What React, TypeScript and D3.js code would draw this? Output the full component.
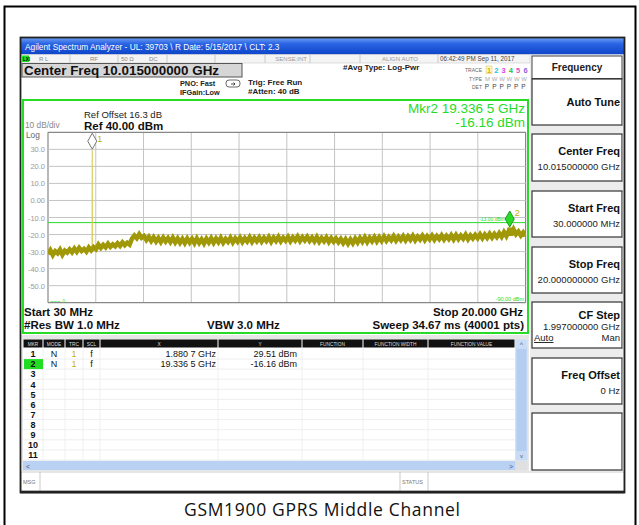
import React from 'react';
import * as d3 from 'd3';

// ---------- data ----------
const startGHz = 0.03;
const stopGHz = 20.0;
const refLevel = 40;
const bottomLevel = -60;
const yTickValues = [30, 20, 10, 0, -10, -20, -30, -40, -50];
const yTickLabels = ["30.0", "20.0", "10.0", "0.00", "-10.0", "-20.0", "-30.0", "-40.0", "-50.0"];
const displayLineDbm = -13;

// trace (dBm), evenly spaced sweep points from start to stop
const traceLevels = [
  -31.5, -29.2, -32.0, -29.8, -31.0, -28.9, -31.8, -29.5, -30.6, -28.7,
  -30.4, -28.2, -30.1, -27.9, -29.6, -28.4, -30.0, -27.6, -29.3, -27.4,
  -28.6, -25.9, -27.8, -26.1, -27.5, -25.4, -27.2, -25.8, -26.9, -25.1,
  -26.6, -24.6, -26.2, -24.8, -25.9, -22.4, -20.6, -22.1, -19.8, -21.9,
  -20.9, -23.2, -21.4, -23.8, -21.7, -24.1, -22.0, -24.3, -21.8, -24.0,
  -22.1, -24.4, -21.9, -24.6, -22.3, -24.8, -22.6, -25.0, -22.4, -24.7,
  -22.6, -25.1, -22.3, -24.9, -22.8, -25.2, -22.5, -24.6, -22.2, -24.8,
  -22.4, -24.5, -22.0, -24.8, -22.6, -24.3, -21.9, -24.6, -22.3, -24.2,
  -21.8, -24.4, -22.2, -24.0, -21.6, -24.3, -22.0, -23.9, -21.7, -24.1,
  -21.9, -23.8, -21.5, -24.2, -21.8, -23.7, -21.4, -24.0, -21.9, -23.6,
  -21.4, -23.9, -21.7, -23.5, -21.2, -23.8, -21.6, -23.4, -21.3, -23.7,
  -21.8, -24.0, -21.5, -24.2, -22.0, -23.9, -21.7, -24.3, -22.1, -24.1,
  -22.3, -24.5, -22.6, -25.0, -22.8, -25.3, -22.9, -25.1, -22.4, -24.6,
  -22.0, -24.2, -21.7, -24.4, -21.9, -23.9, -21.5, -24.0, -21.6, -23.7,
  -21.2, -23.6, -21.5, -23.3, -20.9, -23.5, -21.3, -23.2, -21.0, -23.4,
  -21.1, -23.1, -20.8, -23.4, -21.2, -22.9, -20.7, -23.2, -21.0, -22.8,
  -20.6, -23.0, -20.9, -22.7, -20.5, -22.9, -20.8, -22.6, -20.4, -22.8,
  -20.3, -22.6, -20.6, -22.4, -20.1, -22.7, -20.5, -22.3, -20.2, -22.1,
  -19.9, -22.2, -20.0, -21.9, -19.6, -21.8, -19.7, -21.5, -19.2, -21.3,
  -18.6, -20.9, -17.9, -20.4, -17.0, -19.8, -18.3, -20.6, -18.8, -20.9,
];

// carrier spike
const spikeFreqs = [1.874, 1.8807, 1.887];
const spikeLevels = [-27.6, 29.51, -27.9];

// markers
const markerFreqs = [1.8807, 19.3365];
const markerLevels = [29.51, -16.16];
const markerNames = ["1", "2"];
const markerXText = ["1.880 7 GHz", "19.336 5 GHz"];
const markerYText = ["29.51 dBm", "-16.16 dBm"];
const tableRowNames = ["1", "2", "3", "4", "5", "6", "7", "8", "9", "10", "11"];
const tableColumns = ["MKR", "MODE", "TRC", "SCL", "X", "Y", "FUNCTION", "FUNCTION WIDTH", "FUNCTION VALUE"];

// softkeys
const softkeyTitles = ["Auto Tune", "Center Freq", "Start Freq", "Stop Freq", "CF Step", "Freq Offset", ""];
const softkeyValues = ["", "10.015000000 GHz", "30.000000 MHz", "20.000000000 GHz", "1.997000000 GHz", "0 Hz", ""];

const traceNumbers = ["1", "2", "3", "4", "5", "6"];

// ---------- layout ----------
const W = 639, H = 525;
const PL = 48, PR = 525.6, PT = 132.3, PB = 302.7;
const UI = "'Liberation Sans', Arial, sans-serif";
const GREEN = "#27dc27";
const TRACE = "#a09806";

export default function App() {
  const x = d3.scaleLinear().domain([startGHz, stopGHz]).range([PL, PR]);
  const y = d3.scaleLinear().domain([bottomLevel, refLevel]).range([PB, PT]);
  const n = traceLevels.length;
  const pts: [number, number][] = traceLevels.map((v, i) => [startGHz + (i * (stopGHz - startGHz)) / (n - 1), v]);
  pts.push([markerFreqs[1], markerLevels[1]]);
  pts.sort((a, b) => a[0] - b[0]);
  const line = d3.line<[number, number]>().x(d => x(d[0])).y(d => y(d[1]));
  const spikePts: [number, number][] = spikeFreqs.map((f, i) => [f, spikeLevels[i]]);
  const vTicks = d3.range(11).map(i => startGHz + (i * (stopGHz - startGHz)) / 10);
  const hTicks = d3.range(11).map(i => refLevel - i * 10);

  const colEdges = [23, 43, 65, 83, 100, 218, 302, 363, 428, 515];
  const rowY = (i: number) => 354 + i * 10.1;

  const keyTops = [79, 134, 191, 247, 302, 358, 413];
  const keyBots = [125, 181, 237, 293, 348, 404, 470];
  const traceColors = ["#d6b400", "#22c4e8", "#e040e0", "#30c030", "#e050c0", "#9060e0"];

  return (
    <svg width={W} height={H} style={{ position: 'absolute', left: 0, top: 0, background: '#fff' }} fontFamily={UI}>
      <defs>
        <linearGradient id="tb" x1="0" y1="0" x2="0" y2="1">
          <stop offset="0" stopColor="#6a9cf2" />
          <stop offset="0.35" stopColor="#2a64e4" />
          <stop offset="1" stopColor="#0d44c8" />
        </linearGradient>
        <clipPath id="plot"><rect x={PL} y={PT - 20} width={PR - PL} height={PB - PT + 20} /></clipPath>
      </defs>

      {/* outer frame */}
      <path d="M4.5,525 V6.5 H635.5 V525" fill="none" stroke="#000" strokeWidth={2} />

      <rect x={21} y={38} width={603} height={454} fill="#fff" />

      {/* title bar */}
      <rect x={21} y={38} width={603} height={16.5} fill="url(#tb)" />
      <text x={25} y={50} fill="#fff" fontSize={8.3}>Agilent Spectrum Analyzer - UL: 39703 \ R Date: 5/15/2017 \ CLT: 2.3</text>

      {/* status row */}
      <rect x={21} y={54.5} width={509} height={8.5} fill="#f4f4f4" stroke="#c8c8c8" strokeWidth={0.6} />
      {[70, 118, 167, 215, 265, 310, 360, 438].map(v => (
        <line key={v} x1={v} x2={v} y1={54.5} y2={63} stroke="#c0c0c0" strokeWidth={0.8} />
      ))}
      <rect x={22} y={55.5} width={7} height={6.5} fill="#22dd22" />
      <text x={23} y={61} fontSize={4.5} fontWeight="bold" fill="#000">LXI</text>
      <text x={39} y={61.3} fontSize={6} fill="#888">R L</text>
      <text x={90} y={61.3} fontSize={6} fill="#888">RF</text>
      <text x={121} y={61.3} fontSize={6} fill="#888">50 Ω</text>
      <text x={149} y={61.3} fontSize={6} fill="#888">DC</text>
      <text x={307} y={61.3} fontSize={6} fill="#999" textAnchor="end">SENSE:INT</text>
      <text x={400} y={61.3} fontSize={6} fill="#999" textAnchor="middle">ALIGN AUTO</text>
      <text x={440} y={61.3} fontSize={6.3} fill="#444">06:42:49 PM Sep 11, 2017</text>

      {/* center freq box */}
      <rect x={22} y={63.5} width={220} height={13.5} fill="#d6d6d6" stroke="#555" strokeWidth={1} />
      <text x={24} y={75} fontSize={13.4} fontWeight="bold" fill="#111">Center Freq 10.015000000 GHz</text>

      <text x={180} y={85.5} fontSize={7.3} fontWeight="bold" fill="#222">PNO: Fast</text>
      <text x={180} y={94.5} fontSize={7.3} fontWeight="bold" fill="#222">IFGain:Low</text>
      <rect x={226} y={80} width={14} height={7} rx={3} fill="#fff" stroke="#444" strokeWidth={0.8} />
      <path d="M231,84 h4 M233.5,82.5 l1.5,1.5 l-1.5,1.5" stroke="#222" strokeWidth={0.8} fill="none" />
      <text x={248} y={84.5} fontSize={8} fontWeight="bold" fill="#222">Trig: Free Run</text>
      <text x={248} y={93.5} fontSize={8} fontWeight="bold" fill="#222">#Atten: 40 dB</text>
      <text x={343} y={69.5} fontSize={8} fontWeight="bold" fill="#222">#Avg Type: Log-Pwr</text>

      <text x={482} y={72} fontSize={5} fill="#666" textAnchor="end">TRACE</text>
      <rect x={486} y={66} width={6} height={7.5} fill="#fff7c0" stroke="#d8c060" strokeWidth={0.5} />
      {traceNumbers.map((t, i) => (
        <text key={t} x={489 + i * 7.3} y={72.5} fontSize={7.5} fontWeight="bold" fill={traceColors[i]} textAnchor="middle">{t}</text>
      ))}
      <text x={482} y={80.5} fontSize={5} fill="#666" textAnchor="end">TYPE</text>
      <text x={485} y={80.5} fontSize={6} fill="#aaa" textLength={42}>MWWWWW</text>
      <text x={482} y={88.5} fontSize={5} fill="#666" textAnchor="end">DET</text>
      {traceNumbers.map((t, i) => (
        <text key={t} x={487 + i * 7.3} y={89} fontSize={6.5} fill="#444" textAnchor="middle">P</text>
      ))}

      {/* graph green frame */}
      <rect x={23} y={100} width={505} height={233} fill="#fff" stroke={GREEN} strokeWidth={2} />

      <text x={25} y={128} fontSize={8.3} fill="#888">10 dB/div</text>
      <text x={26} y={137.5} fontSize={8.3} fill="#666">Log</text>
      <text x={84} y={118} fontSize={9.5} fill="#222">Ref Offset 16.3 dB</text>
      <text x={84} y={130} fontSize={11.5} fontWeight="bold" fill="#111">Ref 40.00 dBm</text>
      <text x={525} y={113} fontSize={13.5} fill={GREEN} textAnchor="end">Mkr2 19.336 5 GHz</text>
      <text x={525} y={127} fontSize={13.5} fill={GREEN} textAnchor="end">-16.16 dBm</text>

      {/* grid */}
      {vTicks.map((f, i) => (
        <line key={'v' + i} x1={x(f)} x2={x(f)} y1={PT} y2={PB} stroke={i === 0 || i === 10 ? '#888' : '#c4c4c4'} strokeWidth={i === 0 || i === 10 ? 1.2 : 1} />
      ))}
      {hTicks.map((v, i) => (
        <line key={'h' + i} x1={PL} x2={PR} y1={y(v)} y2={y(v)} stroke={i === 0 || i === 10 ? '#888' : '#c4c4c4'} strokeWidth={i === 0 || i === 10 ? 1.2 : 1} />
      ))}
      {yTickValues.map((v, i) => (
        <text key={'yl' + i} x={45} y={y(v) + 3} fontSize={7.5} fill="#999" textAnchor="end">{yTickLabels[i]}</text>
      ))}

      {/* display line */}
      <line x1={PL} x2={PR} y1={y(displayLineDbm)} y2={y(displayLineDbm)} stroke={GREEN} strokeWidth={1} />
      <text x={505} y={221} fontSize={5} fill={GREEN} textAnchor="end">-13.00 dBm</text>
      <text x={524} y={301} fontSize={5.5} fill={GREEN} textAnchor="end">-90.00 dBm</text>
      <text x={50} y={303} fontSize={6} fill={GREEN}>~~~ ◊</text>

      {/* trace */}
      <g clipPath="url(#plot)">
        <path d={line(spikePts) || ''} fill="none" stroke="#d9cc55" strokeWidth={1.1} />
        <path d={line(pts) || ''} fill="none" stroke={TRACE} strokeWidth={4.6} strokeLinejoin="miter" strokeMiterlimit={3} />
      </g>

      {/* markers */}
      {markerFreqs.map((f, i) => {
        const mx = x(f), my = y(markerLevels[i]) - 1;
        const d = `M${mx},${my} L${mx - 4.5},${my - 8} L${mx},${my - 16} L${mx + 4.5},${my - 8} Z`;
        return (
          <g key={'m' + i}>
            <path d={d} fill={i === 0 ? '#fff' : GREEN} stroke={i === 0 ? '#777' : '#1aa01a'} strokeWidth={1} />
            <text x={mx + 5} y={my - (i === 0 ? 7.5 : 11)} fontSize={9} fill="#c0b000">{markerNames[i]}</text>
          </g>
        );
      })}

      <text x={24} y={316} fontSize={11.5} fontWeight="bold" fill="#111">Start 30 MHz</text>
      <text x={24} y={329} fontSize={11.5} fontWeight="bold" fill="#111">#Res BW 1.0 MHz</text>
      <text x={207} y={329} fontSize={11.5} fontWeight="bold" fill="#111">VBW 3.0 MHz</text>
      <text x={523} y={316} fontSize={11.5} fontWeight="bold" fill="#111" textAnchor="end">Stop 20.000 GHz</text>
      <text x={524} y={329} fontSize={11.5} fontWeight="bold" fill="#111" textAnchor="end">Sweep  34.67 ms (40001 pts)</text>

      {/* marker table */}
      <rect x={22} y={335} width={507} height={136} fill="#e6e6e6" />
      <rect x={23} y={339.5} width={492} height={121} fill="#fff" />
      {tableColumns.map((c, i) => (
        <g key={c}>
          <rect x={colEdges[i] + 0.5} y={339.5} width={colEdges[i + 1] - colEdges[i] - 1} height={8} fill="#111" />
          <text x={(colEdges[i] + colEdges[i + 1]) / 2} y={345.8} fontSize={4.8} fill="#ddd" textAnchor="middle">{c}</text>
        </g>
      ))}
      {tableRowNames.map((r, i) => (
        <line key={'rl' + i} x1={23} x2={515} y1={rowY(i) + 5} y2={rowY(i) + 5} stroke="#eaeaea" strokeWidth={0.8} />
      ))}
      {colEdges.slice(1, -1).map(v => (
        <line key={'cl' + v} x1={v} x2={v} y1={348} y2={460} stroke="#ececec" strokeWidth={0.8} />
      ))}
      <rect x={24} y={rowY(1) - 5} width={19} height={10} fill="#22dd22" />
      {tableRowNames.map((r, i) => (
        <text key={'rn' + i} x={33} y={rowY(i) + 3.2} fontSize={9} fontWeight="bold" fill="#111" textAnchor="middle">{r}</text>
      ))}
      {markerXText.map((t, i) => (
        <g key={'mr' + i}>
          <text x={54} y={rowY(i) + 3.2} fontSize={9} fill="#111" textAnchor="middle">N</text>
          <text x={74} y={rowY(i) + 3.2} fontSize={9} fill="#c8b400" textAnchor="middle">1</text>
          <text x={91.5} y={rowY(i) + 3.2} fontSize={9} fill="#111" textAnchor="middle">f</text>
          <text x={216} y={rowY(i) + 3.2} fontSize={9} fill="#111" textAnchor="end">{t}</text>
          <text x={297} y={rowY(i) + 3.2} fontSize={9} fill="#111" textAnchor="end">{markerYText[i]}</text>
        </g>
      ))}
      {/* scrollbars */}
      <rect x={515.5} y={339.5} width={12} height={121} fill="#c9dcf6" />
      <rect x={516.5} y={349} width={10} height={102} fill="#b4cdf0" />
      <text x={521.5} y={346.5} fontSize={7} fill="#557" textAnchor="middle">^</text>
      <text x={521.5} y={458} fontSize={6} fill="#557" textAnchor="middle">v</text>
      <rect x={23} y={461} width={492.5} height={9} fill="#b9d1f3" />
      <text x={26} y={468.5} fontSize={7} fill="#557">&lt;</text>
      <text x={509} y={468.5} fontSize={7} fill="#557">&gt;</text>
      <rect x={515.5} y={461} width={12} height={9} fill="#e0e0e0" />

      {/* message bar */}
      <rect x={21} y={472} width={603} height={19} fill="#fff" stroke="#aaa" strokeWidth={0.6} />
      <line x1={40} x2={40} y1={472} y2={491} stroke="#bbb" strokeWidth={0.8} />
      <line x1={400} x2={400} y1={472} y2={491} stroke="#bbb" strokeWidth={0.8} />
      <line x1={428} x2={428} y1={472} y2={491} stroke="#bbb" strokeWidth={0.8} />
      <text x={23} y={483.5} fontSize={5.5} fill="#777">MSG</text>
      <text x={402} y={483.5} fontSize={5.5} fill="#777">STATUS</text>

      {/* right softkey panel */}
      <rect x={530} y={54.5} width={94} height={417} fill="#ececec" />
      <rect x={532} y={56} width={90} height={22.5} fill="#fff" stroke="#444" strokeWidth={1} />
      <text x={577} y={70.5} fontSize={10} fontWeight="bold" fill="#222" textAnchor="middle">Frequency</text>
      {softkeyTitles.map((t, i) => (
        <g key={'sk' + i}>
          <rect x={532} y={keyTops[i]} width={90} height={keyBots[i] - keyTops[i]} fill="#fff" stroke="#333" strokeWidth={1.2} />
          <line x1={622.5} x2={622.5} y1={keyTops[i] + 1} y2={keyBots[i] + 1} stroke="#999" strokeWidth={1} />
          <text x={620} y={keyTops[i] + (i === 4 ? 17 : softkeyValues[i] ? 21 : 27)} fontSize={11} fontWeight="bold" fill="#111" textAnchor="end">{t}</text>
          <text x={620} y={keyTops[i] + (i === 4 ? 28 : 35.5)} fontSize={9.5} fill="#222" textAnchor="end">{softkeyValues[i]}</text>
        </g>
      ))}
      <text x={534} y={341} fontSize={9.5} fill="#222" textDecoration="underline">Auto</text>
      <text x={620} y={341} fontSize={9.5} fill="#222" textAnchor="end">Man</text>

      {/* screenshot border */}
      <rect x={20.5} y={37.5} width={604} height={455} fill="none" stroke="#222" strokeWidth={1.8} />
      <line x1={20.5} x2={624.5} y1={492} y2={492} stroke="#222" strokeWidth={2.5} />

      {/* caption */}
      <text x={322} y={516} fontSize={17.5} textLength={276} lengthAdjust="spacing" fontFamily="'Open Sans', 'Noto Sans', sans-serif" fill="#111" textAnchor="middle">GSM1900 GPRS Middle Channel</text>
    </svg>
  );
}
